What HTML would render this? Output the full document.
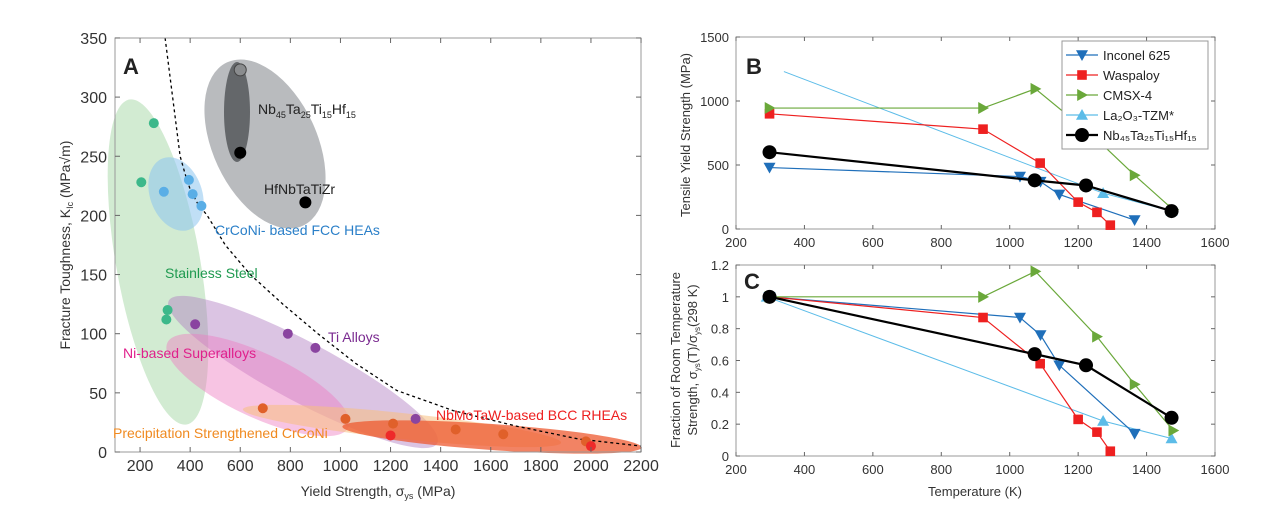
<!DOCTYPE html>
<html><head><meta charset="utf-8"><style>
body{margin:0;background:#fff;font-family:"Liberation Sans",sans-serif}
svg text{font-family:"Liberation Sans",sans-serif}
</style></head><body>
<svg id="s" width="1269" height="513" viewBox="0 0 1269 513" xmlns="http://www.w3.org/2000/svg">
<g id="A"></g>
<g id="B"></g>
<g id="C"></g>
</svg>
<script>
// ---------- Panel A data ----------
const aXTicks=[200,400,600,800,1000,1200,1400,1600,1800,2000,2200];
const aYTicks=[0,50,100,150,200,250,300,350];
const boundX=[300,315,330,345,360,380,400,430,468,540,640,770,910,1060,1225,1450,1700,1950,2200];
const boundY=[350,325,300,275,250,235,222,210,200,175,150,125,100,75,52,35,22,11,5];
const greenX=[255,205,310,305]; const greenY=[278,228,120,112];
const blueX=[295,395,410,445]; const blueY=[220,230,218,208];
const purpleX=[420,790,900,1300]; const purpleY=[108,100,88,28];
const orangeX=[690,1020,1210,1460,1650,1980]; const orangeY=[37,28,24,19,15,9];
const redX=[1200,2000]; const redY=[14,5];
const blackX=[600,860]; const blackY=[253,211];
// ---------- Panel B/C data ----------
const bcXTicks=[200,400,600,800,1000,1200,1400,1600];
const bYTicks=[0,500,1000,1500];
const cYTicks=[0,0.2,0.4,0.6,0.8,1,1.2];
const incT=[298,1030,1090,1145,1365]; const incB=[480,410,370,270,70]; const incC=[1,0.87,0.76,0.57,0.14];
const waspT=[298,922,1089,1200,1255,1294]; const waspB=[900,780,515,210,130,30]; const waspC=[1,0.87,0.58,0.23,0.15,0.03];
const cmsxT=[298,922,1075,1255,1365,1478]; const cmsxB=[945,945,1095,700,420,150]; const cmsxC=[1,1,1.16,0.75,0.45,0.16];
const laT=[340,1273,1473]; const laB=[1230,280,140];
const laCT=[290,1273,1473]; const laC=[1,0.22,0.11];
const nbT=[298,1073,1223,1473]; const nbB=[600,380,340,140]; const nbC=[1,0.64,0.57,0.24];

const NS="http://www.w3.org/2000/svg";
function mk(parent,tag,attrs,txt){const e=document.createElementNS(NS,tag);for(const k in attrs)e.setAttribute(k,attrs[k]);if(txt!==undefined)e.textContent=txt;parent.appendChild(e);return e;}

// Panel A axes
const ax=v=>115+(v-100)*0.2505, ay=v=>452-v*1.183;
const A=document.getElementById('A');
function ell(cx,cy,rx,ry,rot,fill,op,name){const e=mk(A,'ellipse',{cx:cx,cy:cy,rx:rx,ry:ry,transform:`rotate(${rot} ${cx} ${cy})`,fill:fill,'fill-opacity':op});

}
ell(158,262,42,165,-10,'#9bd39b',0.45,'stainless-steel-region');
ell(176,194,26,38,-20,'#8cc4ee',0.55,'crconi-region');
ell(303,372,152,30,28,'#b07cc0',0.45,'ti-alloys-region');
ell(258,385,100,32,25,'#ee7cc0',0.45,'ni-superalloys-region');
ell(402,426,160,13,6,'#f8c080',0.55,'precipitation-crconi-region');
ell(492,437,150,13,4,'#ee5a30',0.75,'bcc-rhea-region');
ell(265,144,52,90,-25,'#7f8388',0.55,'nbtatihf-region');
ell(237,112,13,50,0,'#55585c',0.85,'nbtatihf-inner-region');
// boundary
let d='';boundX.forEach((v,i)=>{d+=(i?'L':'M')+ax(v)+' '+ay(boundY[i]);});
const bl=mk(A,'path',{d:d,fill:'none',stroke:'#000','stroke-width':1.3,'stroke-dasharray':'3,3','stroke-linejoin':'round'});


function dots(xs,ys,col,name,r){xs.forEach((v,i)=>{const c=mk(A,'circle',{cx:ax(v),cy:ay(ys[i]),r:r||5,fill:col});

});}
dots(greenX,greenY,'#3cb88a','stainless-point');
dots(blueX,blueY,'#5aaee6','crconi-point');
dots(purpleX,purpleY,'#8a44a0','ti-point');
dots(orangeX,orangeY,'#e0602a','rhea-point');
dots(redX,redY,'#ee2a2a','rhea-red-point');
dots(blackX,blackY,'#000','nbtatihf-point',6);
mk(A,'circle',{cx:ax(600),cy:ay(323),r:6,fill:'#8a8c8e',stroke:'#444'});
// frame
mk(A,'rect',{x:115,y:38,width:526,height:414,fill:'none',stroke:'#999','stroke-width':1});
aXTicks.forEach(v=>{mk(A,'line',{x1:ax(v),x2:ax(v),y1:452,y2:447,stroke:'#666'});mk(A,'line',{x1:ax(v),x2:ax(v),y1:38,y2:43,stroke:'#666'});
const t=mk(A,'text',{x:ax(v),y:471,'text-anchor':'middle','font-size':16,fill:'#333'},v);

});
aYTicks.forEach(v=>{mk(A,'line',{x1:115,x2:120,y1:ay(v),y2:ay(v),stroke:'#666'});mk(A,'line',{x1:641,x2:636,y1:ay(v),y2:ay(v),stroke:'#666'});
const t=mk(A,'text',{x:107,y:ay(v)+6,'text-anchor':'end','font-size':16,fill:'#333'},v);

});
</script>
<svg style="position:absolute;left:0;top:0" width="1269" height="513" xmlns="http://www.w3.org/2000/svg">
<text x="123" y="74" font-size="22" font-weight="bold" fill="#222">A</text>
<text x="378" y="496" font-size="14" text-anchor="middle" fill="#333">Yield Strength, σ<tspan font-size="9" dy="3">ys</tspan><tspan dy="-3"> (MPa)</tspan></text>
<text transform="translate(70 245) rotate(-90)" font-size="14" text-anchor="middle" fill="#333">Fracture Toughness, K<tspan font-size="9" dy="3">Ic</tspan><tspan dy="-3"> (MPa√m)</tspan></text>
<text x="258" y="114" font-size="14" fill="#222">Nb<tspan font-size="9" dy="4">45</tspan><tspan dy="-4">Ta</tspan><tspan font-size="9" dy="4">25</tspan><tspan dy="-4">Ti</tspan><tspan font-size="9" dy="4">15</tspan><tspan dy="-4">Hf</tspan><tspan font-size="9" dy="4">15</tspan></text>
<text x="264" y="194" font-size="14" fill="#222">HfNbTaTiZr</text>
<text x="215" y="235" font-size="14" fill="#2a7fc8">CrCoNi- based FCC HEAs</text>
<text x="165" y="278" font-size="14" fill="#1f9a50">Stainless Steel</text>
<text x="328" y="342" font-size="14" fill="#7a2a90">Ti Alloys</text>
<text x="123" y="358" font-size="14" fill="#e0208c">Ni-based Superalloys</text>
<text x="436" y="420" font-size="14" fill="#ee2020">NbMoTaW-based BCC RHEAs</text>
<text x="113" y="438" font-size="14" fill="#f08a20">Precipitation Strengthened CrCoNi</text>
</svg>
<script>
const S=document.getElementById('s');
const tx=v=>736+(v-200)*(479/1400);
function panel(g,top,bottom,ymax,yticks,fmt){
  const yy=v=>bottom-v/ymax*(bottom-top);
  mk(g,'rect',{x:736,y:top,width:479,height:bottom-top,fill:'none',stroke:'#999'});
  bcXTicks.forEach(v=>{mk(g,'line',{x1:tx(v),x2:tx(v),y1:bottom,y2:bottom-4,stroke:'#666'});mk(g,'line',{x1:tx(v),x2:tx(v),y1:top,y2:top+4,stroke:'#666'});
    const t=mk(g,'text',{x:tx(v),y:bottom+18,'text-anchor':'middle','font-size':13,fill:'#333'},v);
    
    });
  yticks.forEach(v=>{mk(g,'line',{x1:736,x2:740,y1:yy(v),y2:yy(v),stroke:'#666'});mk(g,'line',{x1:1215,x2:1211,y1:yy(v),y2:yy(v),stroke:'#666'});
    const t=mk(g,'text',{x:729,y:yy(v)+5,'text-anchor':'end','font-size':13,fill:'#333'},fmt(v));
    
    });
  return yy;
}
function marker(g,type,x,y,col,s){
  let e;
  if(type==='down')e=mk(g,'polygon',{points:`${x-s},${y-s*0.8} ${x+s},${y-s*0.8} ${x},${y+s}`,fill:col});
  else if(type==='up')e=mk(g,'polygon',{points:`${x-s},${y+s*0.8} ${x+s},${y+s*0.8} ${x},${y-s}`,fill:col});
  else if(type==='right')e=mk(g,'polygon',{points:`${x-s*0.8},${y-s} ${x-s*0.8},${y+s} ${x+s},${y}`,fill:col});
  else if(type==='sq')e=mk(g,'rect',{x:x-s*0.8,y:y-s*0.8,width:s*1.6,height:s*1.6,fill:col});
  else e=mk(g,'circle',{cx:x,cy:y,r:s,fill:col});
  return e;
}
function series(g,yy,xs,ys,col,w,type,name,skipFirst,ms){
  let d='';xs.forEach((v,i)=>{d+=(i?'L':'M')+tx(v)+' '+yy(ys[i]);});
  const p=mk(g,'path',{d:d,fill:'none',stroke:col,'stroke-width':w});
  
  
  xs.forEach((v,i)=>{if(skipFirst&&i===0)return;const m=marker(g,type,tx(v),yy(ys[i]),col,ms||6);
    
    });
}
const B=document.getElementById('B'),C=document.getElementById('C');
const by=panel(B,37,229,1500,bYTicks,v=>v);
series(B,by,laT,laB,'#5cbce8',1,'up','la2o3-tzm',true);
series(B,by,incT,incB,'#1f6fba',1.2,'down','inconel-625');
series(B,by,waspT,waspB,'#ee2020',1.2,'sq','waspaloy');
series(B,by,cmsxT,cmsxB,'#6aa83a',1.2,'right','cmsx-4');
series(B,by,nbT,nbB,'#000',2.2,'circ','nbtatihf',false,7);
const cy=panel(C,265,456,1.2,cYTicks,v=>v===0||v===1?v:(v.toFixed(1)));
series(C,cy,laCT,laC,'#5cbce8',1,'up','la2o3-tzm');
series(C,cy,incT,incC,'#1f6fba',1.2,'down','inconel-625');
series(C,cy,waspT,waspC,'#ee2020',1.2,'sq','waspaloy');
series(C,cy,cmsxT,cmsxC,'#6aa83a',1.2,'right','cmsx-4');
series(C,cy,nbT,nbC,'#000',2.2,'circ','nbtatihf',false,7);
// legend
const L=mk(B,'g',{});


mk(L,'rect',{x:1062,y:41,width:146,height:108,fill:'#fff',stroke:'#999'});
const legNames=['Inconel 625','Waspaloy','CMSX-4','La₂O₃-TZM*','Nb₄₅Ta₂₅Ti₁₅Hf₁₅'];
const legCols=['#1f6fba','#ee2020','#6aa83a','#5cbce8','#000'];
const legTypes=['down','sq','right','up','circ'];
legNames.forEach((n,i)=>{const y=55+i*20;
  mk(L,'line',{x1:1066,x2:1098,y1:y,y2:y,stroke:legCols[i],'stroke-width':i===4?2.2:1.2});
  marker(L,legTypes[i],1082,y,legCols[i],i===4?7:6);
  const t=mk(L,'text',{x:1103,y:y+5,'font-size':13,fill:'#222'},n);
  
  });
</script>
<svg style="position:absolute;left:0;top:0" width="1269" height="513" xmlns="http://www.w3.org/2000/svg">
<text x="746" y="74" font-size="22" font-weight="bold" fill="#222">B</text>
<text x="744" y="289" font-size="22" font-weight="bold" fill="#222">C</text>
<text transform="translate(690 135) rotate(-90)" font-size="13" text-anchor="middle" fill="#333">Tensile Yield Strength (MPa)</text>
<text transform="translate(680 360) rotate(-90)" font-size="13" text-anchor="middle" fill="#333">Fraction of Room Temperature</text>
<text transform="translate(697 360) rotate(-90)" font-size="13" text-anchor="middle" fill="#333">Strength, σ<tspan font-size="8" dy="3">ys</tspan><tspan dy="-3">(T)/σ</tspan><tspan font-size="8" dy="3">ys</tspan><tspan dy="-3">(298 K)</tspan></text>
<text x="975" y="496" font-size="13" text-anchor="middle" fill="#333">Temperature (K)</text>
</svg>
</body></html>
